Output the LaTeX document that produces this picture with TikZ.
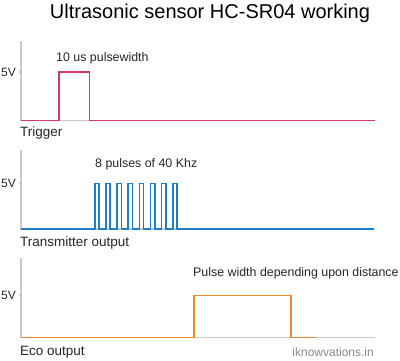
\documentclass[tikz,border=0pt]{standalone}
\usepackage{fontspec}
\setmainfont{Liberation Sans}
\definecolor{trig}{HTML}{D93A64}
\definecolor{tx}{HTML}{1F7EC6}
\definecolor{eco}{HTML}{F0892A}
\definecolor{axisgray}{HTML}{C8C8C8}
\definecolor{txtgray}{HTML}{8A8A8A}
\tikzset{
  axisline/.style={draw=axisgray, line width=1.2pt},
  sig/.style={line width=1.6pt, line join=miter},
  lbl/.style={inner sep=0pt, font=\fontsize{13.5}{15}\selectfont, text=black!85},
  note/.style={inner sep=0pt, font=\fontsize{12.4}{14}\selectfont, text=black!85},
  vlbl/.style={inner sep=0pt, anchor=east, font=\fontsize{12}{14}\selectfont, text=black!85},
}
\begin{document}
\begin{tikzpicture}[x=1pt,y=-1pt]
\useasboundingbox[fill=white] (0,0) rectangle (400,360);
\node[inner sep=0pt, font=\fontsize{20}{24}\selectfont] (title) at (210,13) {Ultrasonic sensor HC-SR04 working};

% ---- Trigger ----
\coordinate (t0) at (21,41);
\coordinate (t1) at (21,120.5);
\coordinate (t2) at (375,120.5);
\draw[axisline] (t0) -- (t1) -- (t2);
\draw[axisline] (18.5,72) -- (21,72);
\node[vlbl] (t5v) at (16,72) {5V};
\draw[sig, trig] (t1) -- (59,120.5) -- (59,72) -- (89.5,72) -- (89.5,120.5) -- (t2);
\node[note, anchor=west] (tnote) at (56,58) {10 us pulsewidth};
\node[lbl, anchor=west] (tlabel) at (20,133) {Trigger};

% ---- Transmitter ----
\coordinate (x0) at (21,150);
\coordinate (x1) at (21,229);
\coordinate (x2) at (374,229);
\draw[axisline] (x0) -- (x1) -- (x2);
\draw[axisline] (18.5,183.5) -- (21,183.5);
\node[vlbl] (x5v) at (16,183.5) {5V};
\draw[sig, tx] (x1)
  \foreach \i in {0,...,7} {
    -- ({94.8+\i*11.14},229) -- ({94.8+\i*11.14},183.5) -- ({99.1+\i*11.14},183.5) -- ({99.1+\i*11.14},229)
  } -- (x2);
\node[note, anchor=west] (xnote) at (95,164) {8 pulses of 40 Khz};
\node[lbl, anchor=west] (xlabel) at (20,243) {Transmitter output};

% ---- Eco ----
\coordinate (e0) at (21,258);
\coordinate (e1) at (21,337.5);
\coordinate (e2) at (375,337.5);
\draw[axisline] (e0) -- (e1) -- (e2);
\draw[axisline] (18.5,295.5) -- (21,295.5);
\node[vlbl] (e5v) at (16,295.5) {5V};
\draw[sig, eco] (e1) -- (194,337.5) -- (194,295.5) -- (291,295.5) -- (291,337.5) -- (315,337.5);
\node[note, anchor=west] (enote) at (193,273) {Pulse width depending upon distance};
\node[lbl, anchor=west] (elabel) at (20,352) {Eco output};
\node[inner sep=0pt, anchor=east, text=txtgray, font=\fontsize{12}{14}\selectfont] (wm) at (374,352) {iknowvations.in};
\end{tikzpicture}
\end{document}
